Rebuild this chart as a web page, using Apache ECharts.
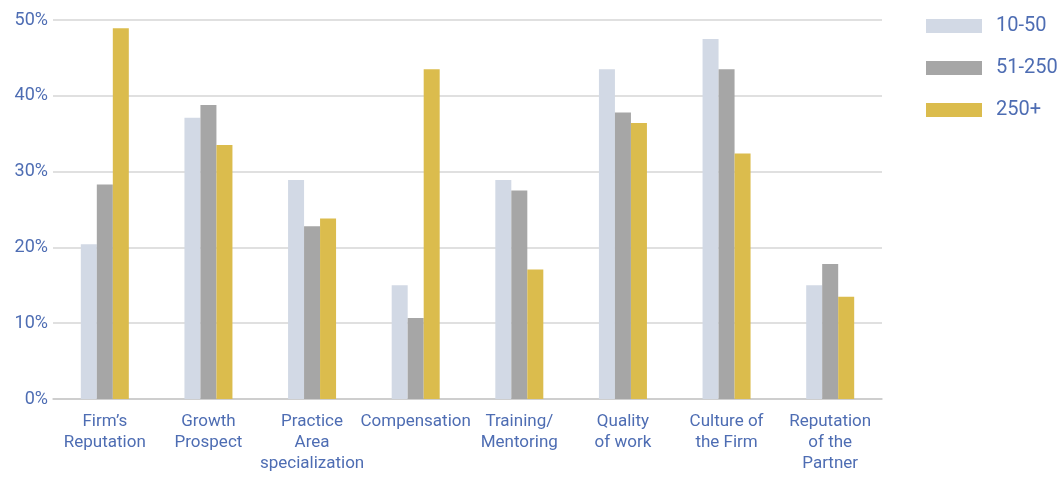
<!DOCTYPE html>
<html>
<head>
<meta charset="utf-8">
<style>
  html, body { margin: 0; padding: 0; background: #ffffff; }
  #chart { width: 1064px; height: 479px; }
</style>
<script src="https://cdn.jsdelivr.net/npm/echarts@6/dist/echarts.min.js"></script>
</head>
<body>
<div id="chart"></div>
<script>
// Reasons for choosing a firm, by firm size (% of respondents)
const categories = [
  "Firm’s\nReputation",
  "Growth\nProspect",
  "Practice\nArea\nspecialization",
  "Compensation",
  "Training/\nMentoring",
  "Quality\nof work",
  "Culture of\nthe Firm",
  "Reputation\nof the\nPartner"
];
const seriesNames = ["10-50", "51-250", "250+"];
const small  = [20.4, 37.1, 28.9, 15.0, 28.9, 43.5, 47.5, 15.0];
const medium = [28.3, 38.8, 22.8, 10.7, 27.5, 37.8, 43.5, 17.8];
const large  = [48.9, 33.5, 23.8, 43.5, 17.1, 36.4, 32.4, 13.5];
const yTicks = [0, 10, 20, 30, 40, 50];

const colors = ["#D2D9E5", "#A6A6A6", "#DBBC4D"];
const textBlue = "#4E6DB3";
const fontFamily = "Roboto, 'Open Sans', sans-serif";

const chart = echarts.init(document.getElementById("chart"), null, { renderer: "canvas" });

function barSeries(name, data, color) {
  return {
    name: name,
    type: "bar",
    data: data,
    barWidth: 16,
    barGap: "0%",
    itemStyle: { color: color },
    emphasis: { disabled: true },
    animation: false
  };
}

chart.setOption({
  animation: false,
  grid: { left: 53, right: 182, top: 20, bottom: 80 },
  legend: {
    orient: "vertical",
    left: 926,
    top: 16,
    padding: 0,
    itemWidth: 56,
    itemHeight: 14,
    itemGap: 22,
    icon: "rect",
    data: seriesNames,
    textStyle: {
      color: textBlue,
      fontSize: 20,
      fontFamily: fontFamily,
      lineHeight: 20,
      padding: [0, 0, 0, 9]
    }
  },
  xAxis: {
    type: "category",
    data: categories,
    axisLine: { show: true, lineStyle: { color: "#C8C8C8", width: 1.5 } },
    axisTick: { show: false },
    axisLabel: {
      color: textBlue,
      fontSize: 17,
      fontFamily: fontFamily,
      lineHeight: 21,
      margin: 12,
      interval: 0
    }
  },
  yAxis: {
    type: "value",
    min: yTicks[0],
    max: yTicks[yTicks.length - 1],
    interval: 10,
    axisLine: { show: false },
    axisTick: { show: false },
    splitLine: { lineStyle: { color: "#D6D6D6", width: 1.5 } },
    axisLabel: {
      color: textBlue,
      fontSize: 18,
      fontFamily: fontFamily,
      margin: 5,
      formatter: v => v + "%"
    }
  },
  series: [
    barSeries(seriesNames[0], small, colors[0]),
    barSeries(seriesNames[1], medium, colors[1]),
    barSeries(seriesNames[2], large, colors[2])
  ]
});
</script>
</body>
</html>
